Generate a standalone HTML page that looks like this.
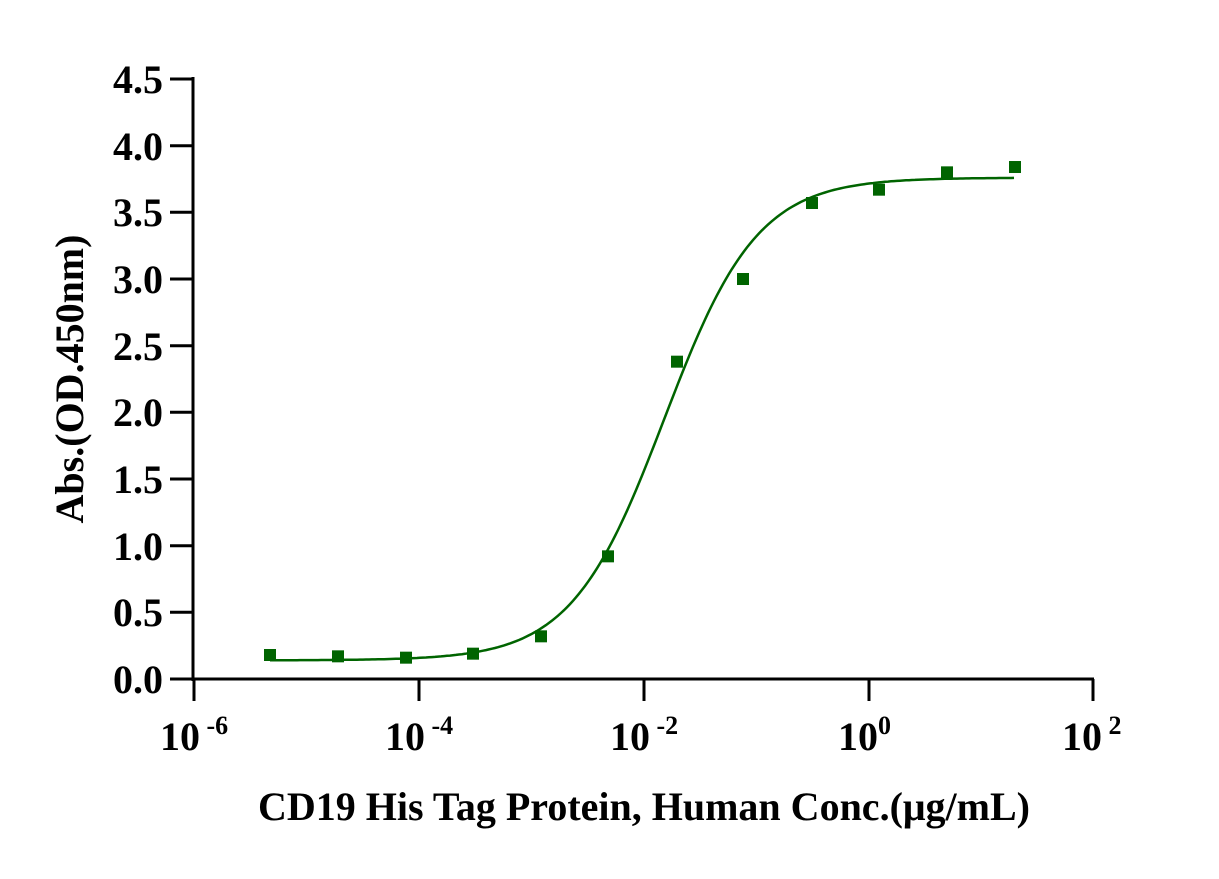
<!DOCTYPE html>
<html><head><meta charset="utf-8"><style>
body{margin:0;background:#fff}
text{font-family:"Liberation Serif",serif;font-weight:bold;fill:#000}
</style></head><body>
<svg id="s" width="1219" height="874" xmlns="http://www.w3.org/2000/svg">
<g stroke="#000" stroke-width="3" fill="none">
<line x1="193" y1="77" x2="193" y2="681"/>
<line x1="191" y1="679" x2="1094" y2="679"/>
<line x1="170" y1="79" x2="193" y2="79"/>
<line x1="170" y1="145.7" x2="193" y2="145.7"/>
<line x1="170" y1="212.3" x2="193" y2="212.3"/>
<line x1="170" y1="279" x2="193" y2="279"/>
<line x1="170" y1="345.7" x2="193" y2="345.7"/>
<line x1="170" y1="412.3" x2="193" y2="412.3"/>
<line x1="170" y1="479" x2="193" y2="479"/>
<line x1="170" y1="545.7" x2="193" y2="545.7"/>
<line x1="170" y1="612.3" x2="193" y2="612.3"/>
<line x1="170" y1="679" x2="193" y2="679"/>
<line x1="194" y1="679" x2="194" y2="701"/>
<line x1="419" y1="679" x2="419" y2="701"/>
<line x1="644" y1="679" x2="644" y2="701"/>
<line x1="869" y1="679" x2="869" y2="701"/>
<line x1="1093" y1="679" x2="1093" y2="701"/>
</g>
<g font-size="40" text-anchor="end">
<text x="163" y="93">4.5</text><text x="163" y="160">4.0</text><text x="163" y="226">3.5</text>
<text x="163" y="293">3.0</text><text x="163" y="360">2.5</text><text x="163" y="426">2.0</text>
<text x="163" y="493">1.5</text><text x="163" y="560">1.0</text><text x="163" y="626">0.5</text>
<text x="163" y="693">0.0</text>
</g>
<g font-size="40">
<text x="160" y="750">10<tspan font-size="26" dy="-16"> -6</tspan></text>
<text x="385" y="750">10<tspan font-size="26" dy="-16"> -4</tspan></text>
<text x="610" y="750">10<tspan font-size="26" dy="-16"> -2</tspan></text>
<text x="838" y="750">10<tspan font-size="26" dy="-16">0</tspan></text>
<text x="1062" y="750">10<tspan font-size="26" dy="-16"> 2</tspan></text>
</g>
<text x="644" y="820" font-size="40" text-anchor="middle">CD19 His Tag Protein, Human Conc.(μg/mL)</text>
<text transform="translate(83,379) rotate(-90)" font-size="40" text-anchor="middle">Abs.(OD.450nm)</text>
<path id="c" fill="none" stroke="#006400" stroke-width="2.5"/>
<g id="p" fill="#006400"></g>
</svg>
<script>
var Y=function(v){return 679-v*133.33};
var d="";for(var px=270;px<=1015;px+=3){var l=-6+(px-194)/112.5;var v=0.14+3.62/(1+Math.pow(10,1.05*(-1.82-l)));d+=(d?"L":"M")+px+","+Y(v).toFixed(1);}
document.getElementById("c").setAttribute("d",d);
var xs=[270,338,406,473,541,608,677,743,812,879,947,1015],vs=[.18,.17,.16,.19,.32,.92,2.38,3.0,3.57,3.67,3.80,3.84],g=document.getElementById("p"),h="";
for(var i=0;i<12;i++)h+='<rect x="'+(xs[i]-6)+'" y="'+(Y(vs[i])-6)+'" width="12" height="12"/>';
g.innerHTML=h;
</script>
</body></html>
